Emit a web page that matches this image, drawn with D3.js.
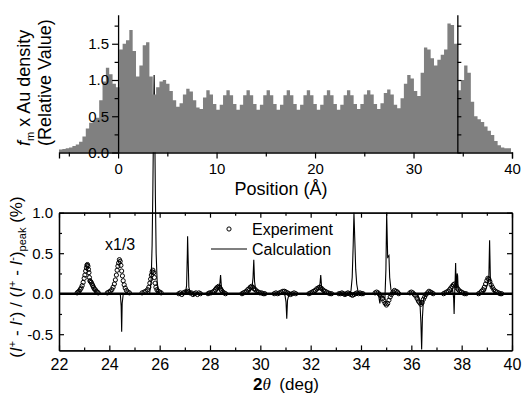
<!DOCTYPE html>
<html>
<head>
<meta charset="utf-8">
<script src="https://cdn.jsdelivr.net/npm/d3@7"></script>
<style>
  body { margin: 0; background: #fff; }
  svg { display: block; font-family: Arial, "Liberation Sans", sans-serif; }
</style>
</head>
<body>
<svg id="chart" width="522" height="394"></svg>
<script>
// top panel: Au density histogram, bins of 0.34 A starting at -6 A
const binStart = -6;
const binWidth = 0.34;
const density = [
  0.04, 0.05, 0.06, 0.07, 0.09, 0.11,
  0.15, 0.22, 0.33, 0.41, 0.44, 0.48,
  0.72, 0.98, 1.17, 1.08, 0.95, 0.90,
  1.42, 1.50, 1.55, 1.69, 1.40, 1.05,
  1.20, 1.48, 1.52, 1.05, 0.80, 0.90,
  0.98, 1.00, 0.95, 0.85, 0.72, 0.63,
  0.68, 0.80, 0.88, 0.84, 0.72, 0.62,
  0.60, 0.76, 0.86, 0.80, 0.67, 0.59,
  0.66, 0.79, 0.86, 0.79, 0.67, 0.59,
  0.66, 0.79, 0.86, 0.79, 0.67, 0.59,
  0.66, 0.79, 0.86, 0.79, 0.67, 0.59,
  0.66, 0.79, 0.86, 0.79, 0.67, 0.59,
  0.66, 0.79, 0.86, 0.79, 0.67, 0.59,
  0.66, 0.79, 0.86, 0.79, 0.67, 0.59,
  0.66, 0.79, 0.86, 0.79, 0.67, 0.60,
  0.67, 0.80, 0.86, 0.80, 0.67, 0.60,
  0.68, 0.82, 0.87, 0.80, 0.66, 0.61,
  0.75, 0.95, 1.07, 1.02, 0.85, 0.78,
  1.10, 1.45, 1.42, 1.30, 1.20, 1.28,
  1.35, 1.42, 1.78, 1.76, 1.50, 0.86,
  1.00, 1.20, 1.10, 0.70, 0.50, 0.46,
  0.42, 0.36, 0.30, 0.24, 0.16, 0.10,
  0.07, 0.06, 0.06
];
const surfaceAxes = [0, 34.45];
const posMajor = [0, 10, 20, 30, 40];
const posMinor = [-5, 5, 15, 25, 35];
const densMajor = [0, 0.5, 1.0, 1.5];
const densMinor = [0.25, 0.75, 1.25, 1.75];

// bottom panel: [2theta, ratio]
const experiment = [
  [22.72,0.01],[22.76,0.02],[22.80,0.03],[22.84,0.05],[22.88,0.07],[22.92,0.10],[22.96,0.14],[23.00,0.19],
  [23.03,0.23],[23.06,0.28],[23.09,0.32],[23.11,0.35],[23.13,0.36],[23.15,0.34],[23.17,0.30],[23.19,0.26],
  [23.21,0.20],[23.23,0.16],[23.25,0.15],[23.28,0.14],[23.31,0.12],[23.34,0.10],[23.37,0.08],[23.40,0.06],
  [23.44,0.05],[23.48,0.03],[23.52,0.02],[23.56,0.01],
  [23.92,0.01],[23.98,0.02],[24.04,0.03],[24.10,0.05],[24.15,0.08],[24.20,0.12],[24.24,0.17],[24.28,0.23],
  [24.31,0.29],[24.34,0.34],[24.37,0.38],[24.40,0.42],[24.43,0.40],[24.46,0.35],[24.49,0.28],[24.52,0.22],
  [24.55,0.16],[24.59,0.11],[24.63,0.07],[24.68,0.04],[24.74,0.02],[24.80,0.01],
  [25.30,0.01],[25.38,0.02],[25.45,0.03],[25.52,0.05],[25.57,0.08],[25.61,0.13],[25.64,0.18],[25.67,0.23],
  [25.70,0.27],[25.73,0.29],[25.76,0.26],[25.79,0.20],[25.82,0.13],[25.85,0.08],[25.89,0.05],[25.94,0.03],
  [26.00,0.02],[26.06,0.01],
  [26.76,0.00],[26.82,0.01],[26.88,-0.01],[26.94,0.01],[27.00,0.02],[27.05,0.02],[27.10,0.03],[27.15,0.02],
  [27.20,0.01],[27.26,0.01],[27.32,-0.01],[27.38,0.00],[27.44,0.01],[27.50,-0.01],[27.56,0.01],[27.62,0.00],
  [27.92,0.00],[27.98,0.01],[28.04,0.01],[28.10,0.02],[28.16,0.03],[28.21,0.05],[28.26,0.07],[28.30,0.08],
  [28.34,0.09],[28.38,0.08],[28.42,0.06],[28.46,0.04],[28.51,0.02],[28.56,0.01],[28.62,0.00],
  [29.27,0.00],[29.33,0.01],[29.39,0.02],[29.45,0.03],[29.50,0.05],[29.55,0.06],[29.60,0.08],[29.65,0.09],
  [29.70,0.08],[29.75,0.06],[29.80,0.05],[29.86,0.03],[29.92,0.02],[29.98,0.01],[30.05,0.01],[30.12,0.00],
  [30.18,0.00],
  [30.55,0.00],[30.62,0.01],[30.69,0.00],[30.76,0.01],[30.83,0.02],[30.90,0.03],[30.96,0.03],[31.02,0.02],
  [31.08,0.01],[31.14,0.00],[31.20,-0.01],[31.27,0.00],[31.34,0.01],[31.41,0.00],
  [31.93,0.00],[32.00,0.01],[32.06,0.02],[32.12,0.03],[32.18,0.04],[32.24,0.06],[32.30,0.07],[32.35,0.08],
  [32.40,0.07],[32.45,0.06],[32.51,0.04],[32.57,0.03],[32.63,0.02],[32.70,0.01],[32.77,0.00],[32.83,0.00],
  [33.12,0.00],[33.18,0.00],[33.24,0.01],[33.30,0.00],[33.36,-0.01],[33.42,0.00],[33.48,0.01],[33.54,0.00],
  [33.60,-0.01],[33.66,-0.02],[33.72,-0.01],[33.78,0.00],[33.84,0.01],[33.90,0.00],[33.96,0.01],[34.02,0.00],
  [34.08,0.00],
  [34.56,0.01],[34.62,0.02],[34.68,0.01],[34.74,-0.01],[34.80,-0.03],[34.86,-0.06],[34.91,-0.09],[34.96,-0.12],
  [35.01,-0.14],[35.06,-0.12],[35.11,-0.08],[35.16,-0.04],[35.21,-0.01],[35.27,0.02],[35.33,0.04],[35.39,0.03],
  [35.45,0.02],[35.50,0.00],
  [35.94,0.01],[36.00,0.02],[36.06,0.01],[36.12,-0.01],[36.18,-0.03],[36.23,-0.06],[36.28,-0.09],[36.33,-0.11],
  [36.38,-0.13],[36.43,-0.11],[36.48,-0.07],[36.53,-0.04],[36.58,-0.01],[36.64,0.01],[36.70,0.03],[36.76,0.02],
  [36.82,0.01],[36.87,0.00],
  [37.28,0.00],[37.34,0.01],[37.40,0.02],[37.46,0.03],[37.52,0.05],[37.57,0.07],[37.62,0.09],[37.67,0.11],
  [37.72,0.12],[37.77,0.10],[37.82,0.07],[37.87,0.05],[37.93,0.03],[37.99,0.02],[38.05,0.01],[38.12,0.00],
  [38.18,0.00],
  [38.67,0.00],[38.73,0.01],[38.79,0.03],[38.85,0.05],[38.90,0.08],[38.95,0.12],[39.00,0.16],[39.04,0.19],
  [39.08,0.18],[39.12,0.15],[39.17,0.11],[39.22,0.08],[39.28,0.05],[39.34,0.03],[39.40,0.02],[39.47,0.01],
  [39.53,0.00],[39.59,0.00]
];
const calculation = [
  [22.00,0],
  [24.40,0],[24.44,-0.02],[24.47,-0.15],[24.49,-0.47],[24.51,-0.12],[24.55,-0.01],[24.60,0],
  [25.60,0],[25.66,0.15],[25.70,0.6],[25.73,1.3],[25.76,2.2],[25.78,2.7],[25.80,2.2],[25.83,1.2],
  [25.86,0.5],[25.90,0.15],[25.96,0],
  [27.02,0],[27.07,0.1],[27.10,0.5],[27.11,0.71],[27.13,0.45],[27.16,0.08],[27.22,0],
  [28.20,0],[28.28,0.03],[28.35,0.06],[28.39,0.12],[28.42,0.23],[28.45,0.1],[28.49,0.03],[28.56,0],
  [29.50,0],[29.60,0.03],[29.67,0.07],[29.71,0.2],[29.74,0.42],[29.77,0.15],[29.82,0.04],[29.90,0.01],[30.00,0],
  [30.90,0],[30.98,-0.02],[31.02,-0.1],[31.05,-0.31],[31.08,-0.08],[31.13,-0.02],[31.20,0],
  [32.15,0],[32.25,0.03],[32.33,0.07],[32.37,0.12],[32.40,0.23],[32.43,0.1],[32.48,0.03],[32.58,0],
  [33.50,0],[33.60,0.03],[33.65,0.2],[33.69,0.6],[33.72,1.0],[33.75,0.7],[33.79,0.3],[33.83,0.12],[33.88,0.03],[33.96,0],
  [34.60,0],[34.70,-0.02],[34.75,-0.12],[34.79,-0.02],[34.88,-0.04],[34.95,-0.06],[34.99,0.3],[35.02,1.0],
  [35.06,0.45],[35.11,0.47],[35.14,0.2],[35.19,0.05],[35.26,0.01],[35.35,0],
  [36.20,0],[36.28,-0.03],[36.34,-0.1],[36.38,-0.35],[36.41,-0.69],[36.44,-0.3],[36.48,-0.08],[36.55,-0.02],[36.65,0],
  [37.50,0],[37.58,0.02],[37.64,0.05],[37.68,-0.05],[37.70,-0.25],[37.72,-0.02],[37.74,0.15],[37.76,0.38],
  [37.78,0.1],[37.80,0.08],[37.82,0.25],[37.84,0.22],[37.86,0.06],[37.92,0.02],[38.00,0],
  [38.85,0],[38.95,0.04],[39.03,0.12],[39.08,0.2],[39.11,0.66],[39.14,0.2],[39.19,0.08],[39.27,0.03],[39.38,0],
  [40.00,0]
];
const angleMajor = [22, 24, 26, 28, 30, 32, 34, 36, 38, 40];
const angleMinor = [23, 25, 27, 29, 31, 33, 35, 37, 39];
const ratioMajor = [-0.5, 0, 0.5, 1.0];
const ratioMinor = [-0.25, 0.25, 0.75];

const svg = d3.select('#chart');
const plotLeft = 59, plotRight = 512;

const xTop = d3.scaleLinear().domain([-6, 40]).range([plotLeft, plotRight]);
const yTop = d3.scaleLinear().domain([0, 1.9]).range([152.5, 14.75]);
const xBot = d3.scaleLinear().domain([22, 40]).range([plotLeft, plotRight]);
const yBot = d3.scaleLinear().domain([-0.7, 1.0]).range([350.4, 212.7]);

function styleAxis(g, fontSize) {
  g.select('.domain').attr('stroke', '#000').attr('stroke-width', 1.3);
  g.selectAll('.tick line').attr('stroke', '#000').attr('stroke-width', 1.2);
  g.selectAll('.tick text').attr('fill', '#000').style('font-size', fontSize + 'px')
    .style('font-family', 'Arial, "Liberation Sans", sans-serif');
}
const fmt1 = d => d.toFixed(1);

// ---------- bottom panel (drawn first, the top fill covers the tall spike) ----------
const bot = svg.append('g');

bot.append('g').attr('transform', 'translate(0,' + yBot(-0.7) + ')')
  .call(d3.axisBottom(xBot).tickValues(angleMajor).tickSizeInner(-5).tickSizeOuter(0).tickPadding(8).tickFormat(d3.format('d')))
  .call(g => styleAxis(g, 16));
bot.append('g').attr('transform', 'translate(0,' + yBot(-0.7) + ')')
  .call(d3.axisBottom(xBot).tickValues(angleMinor).tickSizeInner(-3).tickSizeOuter(0).tickFormat(''))
  .call(g => styleAxis(g, 16));
bot.append('g').attr('transform', 'translate(0,' + yBot(1.0) + ')')
  .call(d3.axisTop(xBot).tickValues(angleMajor).tickSizeInner(-5).tickSizeOuter(0).tickFormat(''))
  .call(g => styleAxis(g, 16));
bot.append('g').attr('transform', 'translate(0,' + yBot(1.0) + ')')
  .call(d3.axisTop(xBot).tickValues(angleMinor).tickSizeInner(-3).tickSizeOuter(0).tickFormat(''))
  .call(g => styleAxis(g, 16));
bot.append('g').attr('transform', 'translate(' + plotLeft + ',0)')
  .call(d3.axisLeft(yBot).tickValues(ratioMajor).tickSizeInner(-5).tickSizeOuter(0).tickPadding(6).tickFormat(fmt1))
  .call(g => styleAxis(g, 15));
bot.append('g').attr('transform', 'translate(' + plotLeft + ',0)')
  .call(d3.axisLeft(yBot).tickValues(ratioMinor).tickSizeInner(-3).tickSizeOuter(0).tickFormat(''))
  .call(g => styleAxis(g, 15));
bot.append('g').attr('transform', 'translate(' + plotRight + ',0)')
  .call(d3.axisRight(yBot).tickValues(ratioMajor).tickSizeInner(-5).tickSizeOuter(0).tickFormat(''))
  .call(g => styleAxis(g, 15));
bot.append('g').attr('transform', 'translate(' + plotRight + ',0)')
  .call(d3.axisRight(yBot).tickValues(ratioMinor).tickSizeInner(-3).tickSizeOuter(0).tickFormat(''))
  .call(g => styleAxis(g, 15));

// zero line
bot.append('line')
  .attr('x1', xBot(22)).attr('x2', xBot(40))
  .attr('y1', yBot(0)).attr('y2', yBot(0))
  .attr('stroke', '#000').attr('stroke-width', 2.5);

// calculation
bot.append('path')
  .datum(calculation)
  .attr('fill', 'none')
  .attr('stroke', '#000')
  .attr('stroke-width', 1.1)
  .attr('d', d3.line().x(d => xBot(d[0])).y(d => yBot(d[1])));

// experiment
bot.selectAll('circle.exp')
  .data(experiment)
  .enter().append('circle')
  .attr('class', 'exp')
  .attr('cx', d => xBot(d[0]))
  .attr('cy', d => yBot(d[1]))
  .attr('r', 2.1)
  .attr('fill', 'none')
  .attr('stroke', '#000')
  .attr('stroke-width', 1);

// legend
bot.append('circle').attr('cx', 229).attr('cy', 229).attr('r', 2.1)
  .attr('fill', 'none').attr('stroke', '#000').attr('stroke-width', 1);
bot.append('line').attr('x1', 211).attr('x2', 247).attr('y1', 249).attr('y2', 249)
  .attr('stroke', '#000').attr('stroke-width', 1.1);
bot.append('text').attr('x', 252).attr('y', 235).style('font-size', '16px').text('Experiment');
bot.append('text').attr('x', 252).attr('y', 255).style('font-size', '16px').text('Calculation');

bot.append('text').attr('x', 105).attr('y', 250).style('font-size', '16px').text('x1/3');

// axis titles
const xt = bot.append('text').attr('x', 286).attr('y', 390).attr('text-anchor', 'middle').style('font-size', '17px');
xt.append('tspan').style('font-weight', 'bold').text('2');
xt.append('tspan').style('font-style', 'italic').style('font-family', '"Liberation Serif", serif').text('\u03b8');
xt.append('tspan').text('\u2002(deg)');

const yt = bot.append('text')
  .attr('transform', 'translate(22,277) rotate(-90)')
  .attr('text-anchor', 'middle')
  .style('font-size', '17px');
const sup = (t, s) => t.append('tspan').attr('dy', -6).style('font-size', '11px').text(s);
const back = (t, s) => t.append('tspan').attr('dy', 6).text(s);
const ital = (t, s) => t.append('tspan').style('font-style', 'italic').text(s);
yt.append('tspan').text('(');
ital(yt, 'I'); sup(yt, '+'); back(yt, ' - ');
ital(yt, 'I'); sup(yt, '-'); back(yt, ') / (');
ital(yt, 'I'); sup(yt, '+'); back(yt, ' - ');
ital(yt, 'I'); sup(yt, '-'); back(yt, ')');
yt.append('tspan').attr('dy', 4).style('font-size', '11px').text('peak');
yt.append('tspan').attr('dy', -4).text(' (%)');

// ---------- top panel ----------
const topPanel = svg.append('g');

const bins = density.map((v, i) => ({x0: binStart + i * binWidth, v: v}));
bins.push({x0: binStart + density.length * binWidth, v: density[density.length - 1]});
topPanel.append('path')
  .datum(bins)
  .attr('fill', '#808080')
  .attr('d', d3.area().curve(d3.curveStepAfter)
    .x(d => xTop(d.x0)).y0(yTop(0)).y1(d => yTop(d.v)));

topPanel.append('g').attr('transform', 'translate(0,' + yTop(0) + ')')
  .call(d3.axisBottom(xTop).tickValues(posMajor).tickSize(6).tickPadding(5).tickFormat(d3.format('d')))
  .call(g => styleAxis(g, 15));
topPanel.append('g').attr('transform', 'translate(0,' + yTop(0) + ')')
  .call(d3.axisBottom(xTop).tickValues(posMinor).tickSize(4).tickFormat(''))
  .call(g => { styleAxis(g, 15); g.select('.domain').remove(); });

topPanel.append('g').attr('transform', 'translate(' + xTop(surfaceAxes[0]) + ',0)')
  .call(d3.axisLeft(yTop).tickValues(densMajor).tickSizeInner(6).tickSizeOuter(0).tickPadding(3).tickFormat(fmt1))
  .call(g => styleAxis(g, 15));
topPanel.append('g').attr('transform', 'translate(' + xTop(surfaceAxes[0]) + ',0)')
  .call(d3.axisLeft(yTop).tickValues(densMinor).tickSizeInner(3.5).tickSizeOuter(0).tickFormat(''))
  .call(g => { styleAxis(g, 15); g.select('.domain').remove(); });
topPanel.append('g').attr('transform', 'translate(' + xTop(surfaceAxes[1]) + ',0)')
  .call(d3.axisRight(yTop).tickValues(densMajor.concat(densMinor)).tickSizeInner(4).tickSizeOuter(0).tickFormat(''))
  .call(g => styleAxis(g, 15));

topPanel.append('text').attr('x', 281).attr('y', 195).attr('text-anchor', 'middle')
  .style('font-size', '18px').text('Position (\u00c5)');

const t1 = topPanel.append('text').attr('transform', 'translate(30,146) rotate(-90)').style('font-size', '18px');
t1.append('tspan').style('font-style', 'italic').text('f');
t1.append('tspan').attr('dy', 4).style('font-size', '11px').text('m');
t1.append('tspan').attr('dy', -4).text(' x Au density');
topPanel.append('text').attr('transform', 'translate(51,146) rotate(-90)').style('font-size', '18px')
  .text('(Relative Value)');
</script>
</body>
</html>
